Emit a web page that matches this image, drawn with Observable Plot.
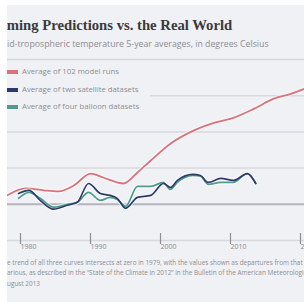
<!DOCTYPE html>
<html>
<head>
<meta charset="utf-8">
<script src="https://cdn.jsdelivr.net/npm/d3@7"></script>
<script src="https://cdn.jsdelivr.net/npm/@observablehq/plot@0.6"></script>
<style>
  html, body { margin: 0; padding: 0; background: #ffffff; }
  #frame { position: absolute; left: 7px; top: 5px; width: 297px; height: 297px; overflow: hidden; background: #f0f1f5; }
  .ln { position: absolute; white-space: nowrap; line-height: 1; }
  #legend { position: absolute; left: 0px; top: 58px; width: 143px; height: 55px; background: #f0f1f5; }
  .sw { position: absolute; left: 0px; width: 11px; height: 4px; }
  #chart { position: absolute; left: 0; top: 45px; }
</style>
</head>
<body>
<div id="frame">
  <div id="chart"></div>
  <div id="legend"></div>
</div>
<script>
// ---- data ----
const modelYears = [1978.4, 1981.0, 1983.6, 1985.7, 1987.9, 1990.3, 1992.1, 1995.0, 1997.0, 1998.9, 2001.7, 2005.0, 2007.9, 2010.7, 2013.6, 2016.4, 2018.9, 2021.0];
const modelValues = [0.05, 0.088, 0.077, 0.071, 0.104, 0.17, 0.148, 0.115, 0.176, 0.242, 0.335, 0.407, 0.45, 0.478, 0.527, 0.582, 0.61, 0.64];
const obsYears = [1980.0, 1981.5, 1983.1, 1985.0, 1987.0, 1988.4, 1990.0, 1991.7, 1993.1, 1994.1, 1995.3, 1997.0, 1998.9, 2000.7, 2001.7, 2002.7, 2004.9, 2006.0, 2007.1, 2008.9, 2010.7, 2012.7, 2013.9];
const satelliteValues = [0.06, 0.077, 0.022, -0.027, -0.005, 0.011, 0.115, 0.06, 0.049, 0.033, -0.022, 0.038, 0.049, 0.115, 0.093, 0.132, 0.165, 0.159, 0.121, 0.143, 0.132, 0.17, 0.115];
const balloonValues = [0.033, 0.066, 0.033, -0.016, 0.0, 0.011, 0.066, 0.022, 0.038, 0.027, -0.011, 0.099, 0.099, 0.121, 0.082, 0.121, 0.159, 0.155, 0.11, 0.121, 0.121, 0.17, 0.115];
const seriesNames = ["Average of 102 model runs", "Average of two satellite datasets", "Average of four balloon datasets"];
const seriesColors = ["#d9727a", "#2c3a6c", "#4f9b8b"];
const xTicks = [1980, 1990, 2000, 2010, 2020];
const yGrid = [-0.2, 0.2, 0.4, 0.6, 0.8];
const titleText = ["Global War", "ming Predictions vs. the Real World", ""];
const subtitleText = ["M", "id-tropospheric temperature 5-year averages, in degrees Celsius", ""];
const noteLines = [
  ["Note: Th", "e trend of all three curves intersects at zero in 1979, with the values shown as departures from that", " trend line."],
  ["Sources: V", "arious, as described in the \u201cState of the Climate in 2012\u201d in the Bulletin of the American Meteo", "rological Society,"],
  ["A", "ugust 2013", ""]
];

const frame = document.getElementById("frame");
const ctx = document.createElement("canvas").getContext("2d");
function measure(text, weight, family, size) {
  ctx.font = `${weight} ${size}px ${family}`;
  return ctx.measureText(text).width;
}
function fitSize(text, weight, family, target) {
  return target / measure(text, weight, family, 100) * 100;
}
function placeLine(parts, opts) {
  const [pre, vis, post] = parts;
  const size = opts.size;
  const preW = measure(pre, opts.weight, opts.family, size);
  const el = document.createElement("div");
  el.className = "ln";
  el.textContent = pre + vis + post;
  el.style.font = `${opts.weight} ${size}px ${opts.family}`;
  el.style.lineHeight = size + "px";
  el.style.color = opts.color;
  el.style.left = (opts.x - preW) + "px";
  el.style.top = (opts.baseline - 0.84 * size) + "px";
  (opts.parent || frame).appendChild(el);
}

const serif = "'Liberation Serif', serif";
const sans = "'Open Sans', sans-serif";
const tSize = fitSize(titleText[1], 700, serif, 226);
placeLine(titleText, {size: tSize, weight: 700, family: serif, color: "#3a3a3a", x: 0, baseline: 25});
const sSize = fitSize(subtitleText[1], 400, sans, 262);
placeLine(subtitleText, {size: sSize, weight: 400, family: sans, color: "#8d8d92", x: 0, baseline: 42});
const nSize = fitSize(noteLines[0][1], 400, sans, 296);
[260, 270, 281].forEach((b, i) => placeLine(noteLines[i], {size: nSize, weight: 400, family: sans, color: "#8d8d92", x: 0, baseline: b}));

// legend
const legend = document.getElementById("legend");
const lSize = fitSize(seriesNames[0], 400, sans, 97);
[9, 27, 44].forEach((cy, i) => {
  const sw = document.createElement("div");
  sw.className = "sw";
  sw.style.top = (cy - 2) + "px";
  sw.style.background = seriesColors[i];
  legend.appendChild(sw);
  placeLine(["", seriesNames[i], ""], {size: lSize, weight: 400, family: sans, color: "#8d8d92", x: 15, baseline: cy + 0.36 * lSize, parent: legend});
});

// chart
const model = modelYears.map((y, i) => ({year: y, value: modelValues[i]}));
const sat = obsYears.map((y, i) => ({year: y, value: satelliteValues[i]}));
const bal = obsYears.map((y, i) => ({year: y, value: balloonValues[i]}));
const curve = "monotone-x";
const halo = {x: "year", y: "value", stroke: "#ffffff", strokeWidth: 4, strokeOpacity: 0.55, curve};

const plot = Plot.plot({
  width: 297,
  height: 210,
  marginTop: 9,
  marginBottom: 20,
  marginLeft: 0,
  marginRight: 0,
  style: {background: "transparent", overflow: "hidden"},
  x: {domain: [1980, 2020], range: [11, 291], axis: null},
  y: {domain: [-0.2, 0.8], axis: null},
  marks: [
    Plot.gridY({ticks: yGrid, stroke: "#d8d9df", strokeOpacity: 1, strokeWidth: 1.5}),
    Plot.ruleY([0], {stroke: "#b4b5bb", strokeWidth: 2}),
    Plot.axisX({ticks: xTicks, tickSize: 11, tickPadding: 0, textAnchor: "start", dx: 2, dy: -7,
      fontSize: 7, color: "#8f8f94", strokeWidth: 1.2, tickFormat: d => String(d), label: null}),
    Plot.line(model, halo),
    Plot.line(model, {x: "year", y: "value", stroke: seriesColors[0], strokeWidth: 1.8, curve}),
    Plot.line(bal, halo),
    Plot.line(sat, halo),
    Plot.line(bal, {x: "year", y: "value", stroke: seriesColors[2], strokeWidth: 1.7, curve}),
    Plot.line(sat, {x: "year", y: "value", stroke: seriesColors[1], strokeWidth: 1.7, curve})
  ]
});
document.getElementById("chart").appendChild(plot);
</script>
</body>
</html>
